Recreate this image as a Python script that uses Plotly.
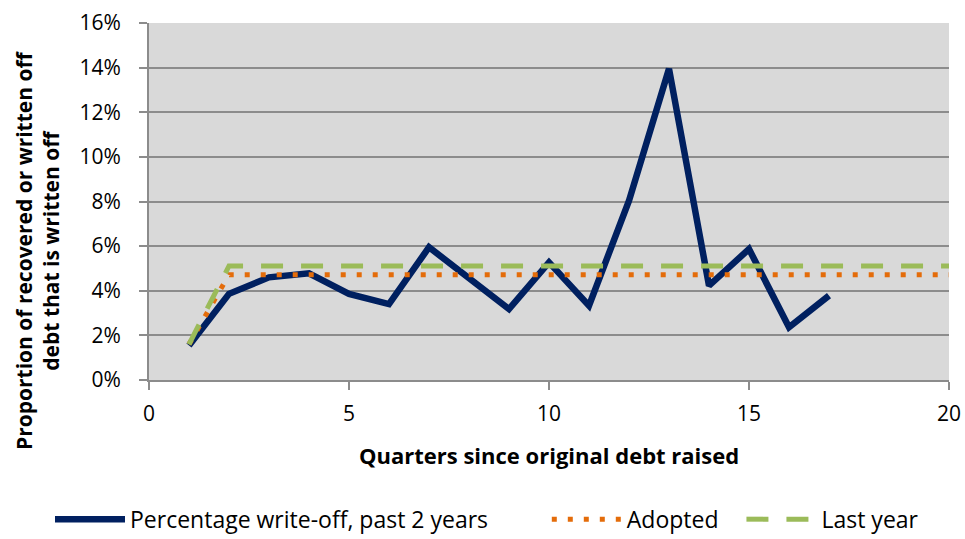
import plotly.graph_objects as go

# Quarters since the original debt was raised
quarters = [1, 2, 3, 4, 5, 6, 7, 8, 9, 10, 11, 12, 13, 14, 15, 16, 17]
# Percentage write-off over the past 2 years (%)
writeoff_pct = [1.55, 3.86, 4.6, 4.78, 3.86, 3.4, 5.95, 4.6, 3.18, 5.27,
                3.33, 8.04, 13.95, 4.23, 5.87, 2.36, 3.78]

# Adopted and last-year curves (%)
adopted_x = [1, 2, 20]
adopted_pct = [1.6, 4.72, 4.72]
last_year_x = [1, 2, 20]
last_year_pct = [1.6, 5.11, 5.11]

y_ticks = [0, 2, 4, 6, 8, 10, 12, 14, 16]
y_tick_text = ["0%", "2%", "4%", "6%", "8%", "10%", "12%", "14%", "16%"]
x_ticks = [0, 5, 10, 15, 20]

FONT = "'Open Sans', sans-serif"
GRID = "#8c8c8c"
NBSP = "\u00a0"  # trailing padding widens the gap to the next legend entry

fig = go.Figure()
fig.add_trace(go.Scatter(
    x=quarters, y=writeoff_pct, mode="lines",
    name="Percentage write-off, past 2 years" + NBSP * 9,
    line=dict(color="#002060", width=6.5),
))
fig.add_trace(go.Scatter(
    x=adopted_x, y=adopted_pct, mode="lines", name="Adopted" + NBSP * 3,
    line=dict(color="#E46C0A", width=5, dash="5px,11px"),
))
fig.add_trace(go.Scatter(
    x=last_year_x, y=last_year_pct, mode="lines", name="Last year",
    line=dict(color="#9BBB59", width=5, dash="22px,18px"),
))

fig.update_layout(
    width=965, height=539,
    margin=dict(l=149, r=16, t=23, b=159, autoexpand=False),
    paper_bgcolor="white",
    plot_bgcolor="#D9D9D9",
    font=dict(family=FONT, size=20, color="black"),
    showlegend=True,
    # left-anchored left of the plot area so the single row may span the page
    legend=dict(
        orientation="h", x=(50 - 149) / 800, xanchor="left",
        y=-0.39, yanchor="middle",
        font=dict(family=FONT, size=23, color="black"),
        itemwidth=70,
    ),
    annotations=[
        dict(text="<b>Quarters since original debt raised</b>",
             x=0.5, y=-0.21, xref="paper", yref="paper",
             xanchor="center", yanchor="middle", showarrow=False,
             font=dict(family=FONT, size=22, color="black")),
        dict(text="<b>Proportion of recovered or written off<br>debt that is written off</b>",
             x=(37 - 149) / 800, y=(380 - 250) / 357,
             xref="paper", yref="paper",
             xanchor="center", yanchor="middle", showarrow=False, textangle=-90,
             font=dict(family=FONT, size=21, color="black")),
    ],
)

fig.update_xaxes(
    range=[0, 20], tickvals=x_ticks, showgrid=False, zeroline=False,
    automargin=False,
    showline=True, linecolor=GRID, linewidth=2,
    ticks="outside", ticklen=8, tickcolor=GRID, tickwidth=2,
    ticklabelstandoff=6,
    tickfont=dict(family=FONT, size=21),
)
fig.update_yaxes(
    range=[0, 16], tickvals=y_ticks, ticktext=y_tick_text,
    automargin=False,
    showgrid=True, gridcolor=GRID, gridwidth=2, zeroline=False,
    showline=True, linecolor=GRID, linewidth=2,
    ticks="outside", ticklen=8, tickcolor=GRID, tickwidth=2,
    ticklabelstandoff=14,
    tickfont=dict(family=FONT, size=21),
)

fig.write_html("out.html")
